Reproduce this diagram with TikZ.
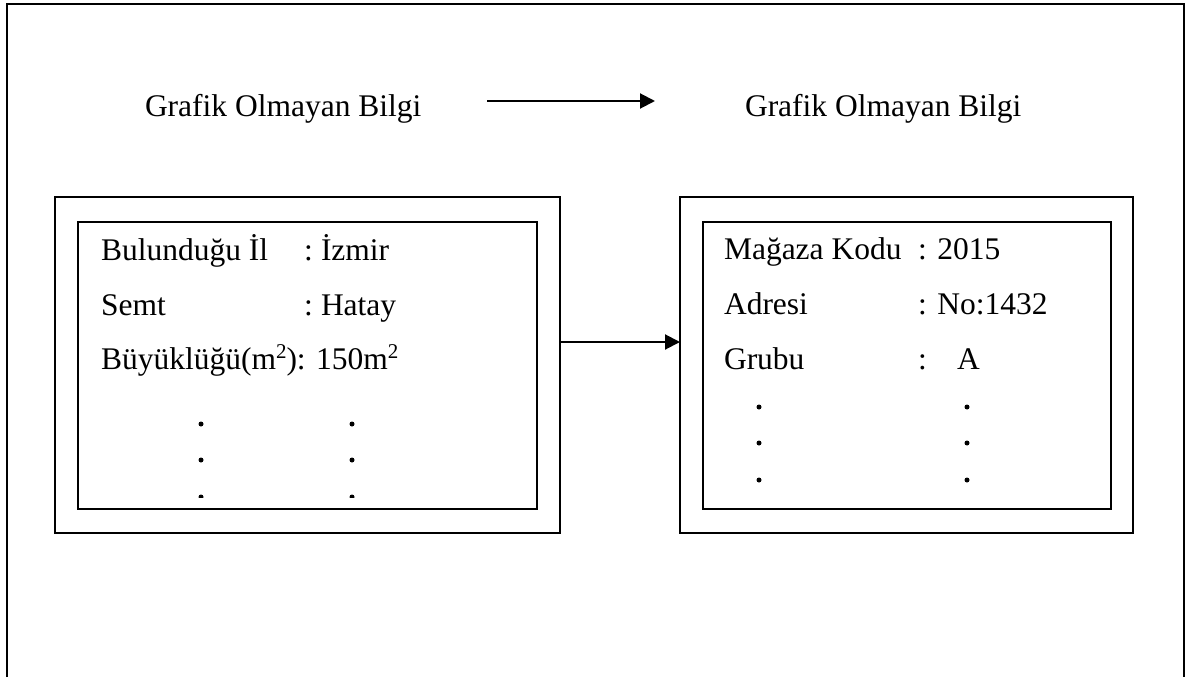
\documentclass[tikz,border=0pt]{standalone}
\usepackage{fontspec}
\setmainfont{Liberation Serif}
\usetikzlibrary{arrows.meta}
% superscript two, sized like a word processor superscript
\newcommand\supertwo{\raisebox{11pt}{\fontsize{21}{21}\selectfont 2}}
\begin{document}
\begin{tikzpicture}[x=1pt,y=-1pt,
  txt/.style={anchor=base west,inner sep=0pt,outer sep=0pt,font=\fontsize{31.5}{36}\selectfont},
  outerbox/.style={draw,line width=1.9pt,inner sep=0pt,outer sep=0pt},
  innerbox/.style={draw,line width=1.7pt,inner sep=0pt,outer sep=0pt},
  link/.style={line width=2pt,-{Triangle[length=15pt,width=15pt]}},
  dot/.style={fill=black}]
\useasboundingbox (0,0) rectangle (1185,677);

% page frame, open at the bottom
\draw[line width=2.3pt] (7,677) -- (7,4) -- (1184,4) -- (1184,677);

% headings and the arrow between them
\node[txt] (tl) at (145,116) {Grafik Olmayan Bilgi};
\node[txt] (tr) at (745,116) {Grafik Olmayan Bilgi};
\coordinate (ha) at (487,101);
\coordinate (hb) at (655,101);
\draw[link] (ha) -- (hb);

% left record
\node[outerbox,minimum width=505pt,minimum height=336pt] (lo) at (307.5,365) {};
\node[innerbox,minimum width=459pt,minimum height=287pt] (li) at (307.5,365.5) {};
\node[txt] (l1a) at (101,260) {Bulunduğu İl};
\node[txt] (l1b) at (304,260) {:};
\node[txt] (l1c) at (321,260) {İzmir};
\node[txt] (l2a) at (101,315) {Semt};
\node[txt] (l2b) at (304,315) {:};
\node[txt] (l2c) at (321,315) {Hatay};
\node[txt] (l3) at (101,369) {Büyüklüğü(m\supertwo): 150m\supertwo};
\foreach \y in {424,460} {
  \fill[dot] (201,\y) circle (2.5);
  \fill[dot] (352,\y) circle (2.5);
}
\begin{scope}
  \clip (150,480) rectangle (400,497.5);
  \fill[dot] (201,497) circle (2.5);
  \fill[dot] (352,497) circle (2.5);
\end{scope}

% right record
\node[outerbox,minimum width=453pt,minimum height=336pt] (ro) at (906.5,365) {};
\node[innerbox,minimum width=408pt,minimum height=287pt] (ri) at (907,365.5) {};
\node[txt] (r1a) at (724,259) {Mağaza Kodu};
\node[txt] (r1b) at (918,259) {: 2015};
\node[txt] (r2a) at (724,314) {Adresi};
\node[txt] (r2b) at (918,314) {: No:1432};
\node[txt] (r3a) at (724,369) {Grubu};
\node[txt] (r3b) at (918,369) {:};
\node[txt] (r3c) at (957,369) {A};
\foreach \y in {407,443,480} {
  \fill[dot] (759,\y) circle (2.5);
  \fill[dot] (967,\y) circle (2.5);
}

% link between the records
\draw[link] ([yshift=23pt]lo.east) -- ([yshift=23pt]ro.west);
\end{tikzpicture}
\end{document}
